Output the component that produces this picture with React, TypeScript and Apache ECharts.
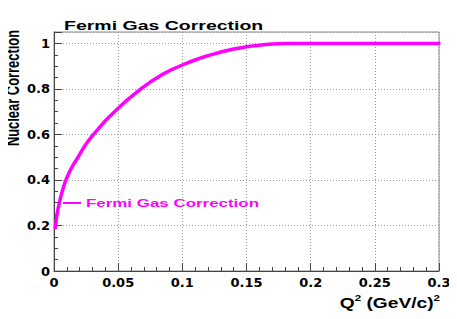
import React, { useEffect, useRef } from "react";
import * as echarts from "echarts";

const q2Values = [0.001, 0.002, 0.003, 0.004, 0.005, 0.0065, 0.008, 0.01, 0.012, 0.015, 0.018, 0.021, 0.024, 0.027, 0.03, 0.035, 0.04, 0.045, 0.05, 0.055, 0.06, 0.065, 0.07, 0.075, 0.08, 0.085, 0.09, 0.095, 0.1, 0.105, 0.11, 0.115, 0.12, 0.125, 0.13, 0.135, 0.14, 0.145, 0.15, 0.155, 0.16, 0.165, 0.17, 0.175, 0.18, 0.19, 0.2, 0.25, 0.3];
const correctionValues = [0.19, 0.235, 0.27, 0.295, 0.32, 0.352, 0.38, 0.41, 0.435, 0.467, 0.493, 0.522, 0.55, 0.573, 0.595, 0.628, 0.66, 0.688, 0.715, 0.741, 0.765, 0.788, 0.81, 0.83, 0.848, 0.865, 0.88, 0.893, 0.905, 0.917, 0.927, 0.937, 0.946, 0.954, 0.962, 0.969, 0.975, 0.98, 0.985, 0.989, 0.992, 0.995, 0.997, 0.998, 0.999, 1.0, 1.0, 1.0, 1.0];
const seriesName = "Fermi Gas Correction";
const titleText = "Fermi Gas Correction";
const yTitle = "Nuclear Correction";

const FONT = "'Liberation Sans', Arial, Helvetica, sans-serif";
const LABEL_FONT = "'DejaVu Sans', 'Liberation Sans', Arial, sans-serif";
const MAGENTA = "#ff00ff";

export default function App() {
  const ref = useRef<HTMLDivElement>(null);
  useEffect(() => {
    if (!ref.current) return;
    const chart = echarts.init(ref.current, undefined, { renderer: "svg" });
    const data = q2Values.map((x, i) => [x, correctionValues[i]]);
    chart.setOption({
      animation: false,
      backgroundColor: "#ffffff",
      grid: {
        left: 54,
        right: 18,
        top: 32,
        bottom: 48,
        show: true,
        borderColor: "#888",
        borderWidth: 1,
        backgroundColor: "transparent",
      },
      xAxis: {
        type: "value",
        min: 0,
        max: 0.3,
        interval: 0.05,
        axisLine: { show: true, lineStyle: { color: "#444", width: 1 } },
        axisTick: { show: true, inside: true, length: 8, lineStyle: { color: "#444" } },
        minorTick: { show: true, splitNumber: 5, length: 4, lineStyle: { color: "#444" } },
        axisLabel: {
          margin: 5,
          fontFamily: LABEL_FONT,
          fontWeight: "bold",
          fontSize: 13,
          color: "#000",
          formatter: (v: number) => String(Math.round(v * 100) / 100),
        },
        splitLine: { show: true, lineStyle: { color: "#999", type: [1, 2], width: 1 } },
      },
      yAxis: {
        type: "value",
        min: 0,
        max: 1.05,
        interval: 0.2,
        axisLine: { show: true, lineStyle: { color: "#444", width: 1 } },
        axisTick: { show: true, inside: true, length: 8, lineStyle: { color: "#444" } },
        minorTick: { show: true, splitNumber: 4, length: 4, lineStyle: { color: "#444" } },
        axisLabel: {
          margin: 4,
          fontFamily: LABEL_FONT,
          fontWeight: "bold",
          fontSize: 13,
          color: "#000",
          showMaxLabel: false,
          formatter: (v: number) => (v > 1.01 ? "" : String(Math.round(v * 10) / 10)),
        },
        splitLine: { show: true, lineStyle: { color: "#999", type: [1, 2], width: 1 } },
      },
      graphic: [
        {
          type: "text",
          x: 64,
          y: 25.5,
          scaleX: 1.5,
          style: {
            text: titleText,
            fill: "#000",
            font: "bold 13px " + FONT,
            textAlign: "left",
            textVerticalAlign: "middle",
          },
        },
        {
          type: "text",
          x: 11.5,
          y: 88,
          rotation: Math.PI / 2,
          scaleX: 0.68,
          style: {
            text: yTitle,
            fill: "#000",
            font: "bold 19px " + FONT,
            textAlign: "center",
            textVerticalAlign: "middle",
          },
        },
        {
          type: "text",
          x: 440,
          y: 303,
          scaleX: 1.28,
          style: {
            text: "{b|Q}{s|2}{b| (GeV/c)}{s|2}",
            textAlign: "right",
            textVerticalAlign: "middle",
            rich: {
              b: { fontFamily: FONT, fontWeight: "bold", fontSize: 15, fill: "#000", lineHeight: 20 },
              s: { fontFamily: FONT, fontWeight: "bold", fontSize: 9, fill: "#000", verticalAlign: "top", lineHeight: 20 },
            },
          },
        },
        {
          type: "line",
          shape: { x1: 63, y1: 203, x2: 81, y2: 203 },
          style: { stroke: MAGENTA, lineWidth: 2 },
        },
        {
          type: "text",
          x: 86,
          y: 203,
          scaleX: 1.46,
          style: {
            text: seriesName,
            fill: MAGENTA,
            font: "bold 11.6px " + FONT,
            textAlign: "left",
            textVerticalAlign: "middle",
          },
        },
      ],
      series: [
        {
          name: seriesName,
          type: "line",
          data,
          smooth: false,
          showSymbol: false,
          symbol: "none",
          lineStyle: { color: MAGENTA, width: 3.5, join: "round", cap: "round" },
          itemStyle: { color: MAGENTA },
        },
      ],
    });
    return () => chart.dispose();
  }, []);
  return <div ref={ref} style={{ width: 457, height: 319, margin: -8 }} />;
}
